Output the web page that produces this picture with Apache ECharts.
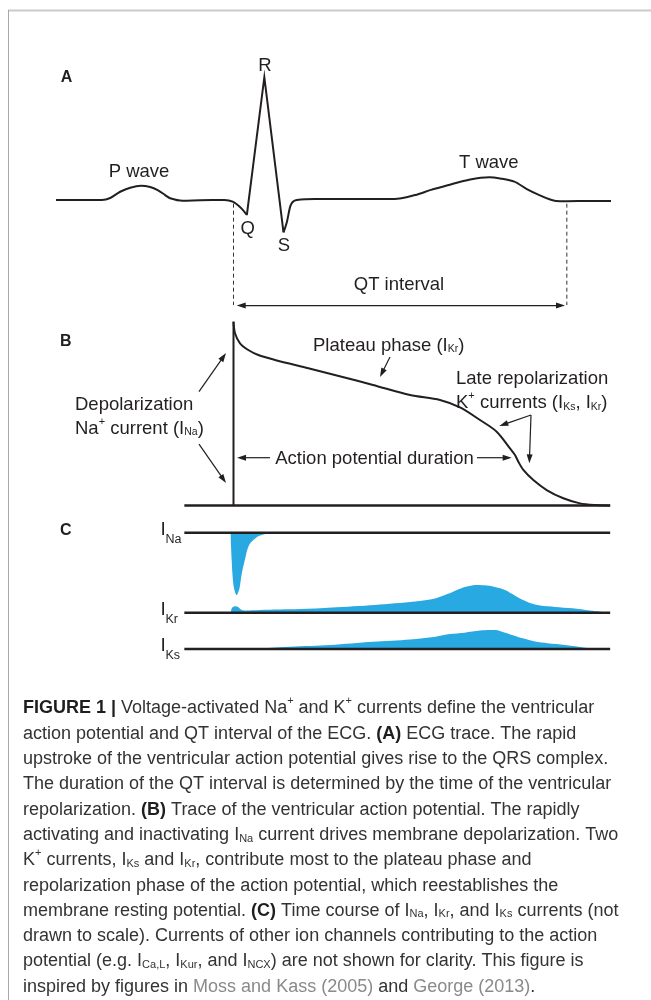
<!DOCTYPE html>
<html><head><meta charset="utf-8">
<script src="https://cdn.jsdelivr.net/npm/echarts@6/dist/echarts.min.js"></script>
<style>html,body{margin:0;padding:0;background:#fff}#c{width:651px;height:1000px}</style>
</head><body><div id="c"></div>
<script>
// ---------- DATA (time in ms, 0 = Q onset / AP upstroke) ----------
// ECG (mV-like units)
const ecgPQ = [[-213,0],[-158,0],[-148,0.016],[-136,0.067],[-124,0.10],[-111,0.116],[-100,0.106],[-91,0.081],[-82,0.04],[-76,0.014],[-61,-0.006],[-40,-0.002],[-11,0],[-1,-0.014],[9,-0.065],[16,-0.122]];
const ecgQRS = [[16,-0.122],[37,0.998],[60,-0.263]];
const ecgST = [[60,-0.263],[64,-0.18],[68,-0.054],[71,-0.016],[76,0],[98,0.008],[193,0.008],[218,0.04],[236,0.08],[257,0.12],[284,0.167],[307,0.185],[320,0.175],[337,0.149],[352,0.089],[367,0.04],[380,0.004],[387,-0.008],[400,-0.01],[428,-0.008],[453,-0.008]];
// Ventricular action potential (mV)
const apRest = [[-59,-85],[452,-85]];
const apUpstroke = [[0,-85],[0,35]];
const apDecay = [[0,35],[1.8,27.4],[7.8,20.9],[17.8,16.5],[29.8,13.2],[49.8,10.0],[89.8,4.6],[129.8,-0.9],[167.4,-6.3],[211.8,-12.9],[247.8,-16.1],[271.8,-21.0],[295.8,-29.2],[315.8,-36.8],[331.8,-47.7],[337.8,-52.0],[341.8,-56.4],[347.8,-61.8],[359.8,-68.4],[375.8,-74.9],[395.8,-80.3],[415.8,-83.6],[435.8,-84.7],[452,-85]];
// Currents (normalized, not to scale)
const iNa = [[-3.4,0],[-3,-0.2],[-2.2,-0.44],[-1.2,-0.68],[0.6,-0.89],[3.8,-1.0],[7.2,-0.89],[9.6,-0.68],[13.6,-0.44],[18.6,-0.2],[28.2,-0.07],[38.5,-0.02],[55.8,-0.005],[70,0]];
const iKr = [[-3.4,0],[-1.8,0.17],[1.8,0.23],[5.4,0.21],[9,0.12],[13.8,0.08],[31.8,0.1],[79.8,0.13],[118.2,0.19],[169.8,0.28],[217.8,0.4],[241.8,0.51],[257.4,0.68],[269.4,0.84],[280.2,0.95],[292.2,1.0],[304.2,0.98],[316.2,0.91],[325.8,0.82],[334.2,0.68],[343.8,0.51],[355.8,0.35],[367.8,0.26],[385.8,0.21],[406.9,0.16],[427.8,0.08],[451.8,0]];
const iKs = [[-1.8,0],[31.8,0.04],[68.4,0.12],[115.8,0.21],[167.4,0.38],[211.8,0.5],[242.6,0.65],[259.8,0.79],[277.4,0.86],[295.8,0.97],[307.3,1.0],[315,1.0],[322.2,0.91],[334.2,0.74],[347.2,0.56],[361.8,0.39],[377,0.3],[397.8,0.21],[426.6,0.04],[433.8,0]];
const currentBaseline = [[-59,0],[452,0]];
const currentNames = [['Na'],['Kr'],['Ks']];

// Annotations (data units of their panel)
const qtMarks = [0, 400];                // ms, dashed verticals
const qtArrow = [[3.8,-0.858],[397.8,-0.858]];
const labelsA = [
  {t:'{n|R}', x:37.8, y:1.106},
  {t:'{n|P wave}', x:-113.4, y:0.244},
  {t:'{n|Q}', x:17, y:-0.224},
  {t:'{n|S}', x:60.6, y:-0.362},
  {t:'{n|T wave}', x:306.4, y:0.311},
  {t:'{n|QT interval}', x:198.6, y:-0.677}
];
const labelsB = [
  {t:'{n|Plateau phase (I}{s|Kr}{n|)}', x:95.4, y:20.4, align:'left'},
  {t:'{n|Late repolarization}', x:267, y:-1.1, align:'left'},
  {t:'{n|K}{p|+}{n| currents (I}{s|Ks}{n|, I}{s|Kr}{n|)}', x:267, y:-17.2, align:'left'},
  {t:'{n|Depolarization}', x:-190.2, y:-18.1, align:'left'},
  {t:'{n|Na}{p|+}{n| current (I}{s|Na}{n|)}', x:-190.2, y:-33.8, align:'left'},
  {t:'{n|Action potential duration}', x:169.2, y:-53.6}
];
const arrowsB = [
  {from:[187.8,11.9], to:[175.8,-1.1]},
  {from:[357,-25.9], to:[319,-33.1]},
  {from:[357,-25.9], to:[355,-57.5]},
  {from:[-41.4,-10.7], to:[-9,14.5]},
  {from:[-41.4,-44.9], to:[-9,-70.3]},
  {from:[43.8,-53.8], to:[4.2,-53.8]},
  {from:[292.2,-53.8], to:[333.8,-53.8]}
];
const captionLines = [
  '{b|FIGURE 1 |}{n| Voltage-activated Na}{p|+}{n| and K}{p|+}{n| currents define the ventricular}',
  '{n|action potential and QT interval of the ECG. }{b|(A)}{n| ECG trace. The rapid}',
  '{n|upstroke of the ventricular action potential gives rise to the QRS complex.}',
  '{n|The duration of the QT interval is determined by the time of the ventricular}',
  '{n|repolarization. }{b|(B)}{n| Trace of the ventricular action potential. The rapidly}',
  '{n|activating and inactivating I}{s|Na}{n| current drives membrane depolarization. Two}',
  '{n|K}{p|+}{n| currents, I}{s|Ks}{n| and I}{s|Kr}{n|, contribute most to the plateau phase and}',
  '{n|repolarization phase of the action potential, which reestablishes the}',
  '{n|membrane resting potential. }{b|(C)}{n| Time course of I}{s|Na}{n|, I}{s|Kr}{n|, and I}{s|Ks}{n| currents (not}',
  '{n|drawn to scale). Currents of other ion channels contributing to the action}',
  '{n|potential (e.g. I}{s|Ca,L}{n|, I}{s|Kur}{n|, and I}{s|NCX}{n|) are not shown for clarity. This figure is}',
  '{n|inspired by figures in }{g|Moss and Kass (2005)}{n| and }{g|George (2013)}{n|.}'
];

// ---------- LAYOUT ----------
const FONT = '"Liberation Sans", Arial, Helvetica, sans-serif';
const INK = '#231F20';
const BLUE = '#29A9E1';
const X_MIN = -220, X_MAX = 460, X0PX = 233.5, PX_PER_MS = 1/1.2;
const gridLeft = X0PX + X_MIN*PX_PER_MS, gridWidth = (X_MAX - X_MIN)*PX_PER_MS;
// [ref value, ref pixel, px per unit, min, max]
const panels = [
  [0, 200, 123, -0.9, 1.2],
  [-85, 505.5, 1.532, -90, 40],
  [0, 532.7, 62.3, -1.2, 0.2],
  [0, 612.7, 27.7, -0.2, 1.2],
  [0, 649, 19, -0.3, 1.3]
];
const grids = panels.map(p => ({left: gridLeft, width: gridWidth, top: p[1] - (p[4]-p[0])*p[2], height: (p[4]-p[3])*p[2], containLabel:false}));
const xAxes = panels.map((p,i) => ({type:'value', gridIndex:i, min:X_MIN, max:X_MAX, show:false}));
const yAxes = panels.map((p,i) => ({type:'value', gridIndex:i, min:p[3], max:p[4], show:false}));

function lineS(data, g, opt) {
  return Object.assign({type:'line', data, xAxisIndex:g, yAxisIndex:g, showSymbol:false, symbol:'none', silent:true,
    lineStyle:{color:INK, width:2}, z:3}, opt||{});
}
function fillS(data, g) {
  return lineS(data, g, {smooth:0.3, lineStyle:{width:0, opacity:0}, areaStyle:{color:BLUE, opacity:1}, z:2});
}
const series = [
  lineS(ecgPQ, 0, {smooth:0.3}),
  lineS(ecgQRS, 0, {lineStyle:{color:INK, width:2, join:'miter'}}),
  lineS(ecgST, 0, {smooth:0.3}),
  lineS(apRest, 1, {lineStyle:{color:INK, width:2.4}}),
  lineS(apUpstroke, 1),
  lineS(apDecay, 1, {smooth:0.3}),
  fillS(iNa, 2), lineS(currentBaseline, 2, {lineStyle:{color:INK, width:2.4}}),
  fillS(iKr, 3), lineS(currentBaseline, 3, {lineStyle:{color:INK, width:2.4}}),
  fillS(iKs, 4), lineS(currentBaseline, 4, {lineStyle:{color:INK, width:2.4}})
];

const chart = echarts.init(document.getElementById('c'), null, {renderer:'canvas'});
chart.setOption({animation:false, backgroundColor:'#fff', grid:grids, xAxis:xAxes, yAxis:yAxes, series});

// ---------- ANNOTATIONS via the chart's own scales ----------
const px = (g, p) => chart.convertToPixel({gridIndex:g}, p);
const labelRich = {
  n:{fontSize:18.5, lineHeight:22, fontFamily:FONT, fill:INK, verticalAlign:'bottom'},
  s:{fontSize:10.5, lineHeight:12, fontFamily:FONT, fill:INK, verticalAlign:'bottom'},
  p:{fontSize:11, lineHeight:12, fontFamily:FONT, fill:INK, verticalAlign:'top'}
};
const G = [];
function text(x, y, t, rich, align) {
  G.push({type:'text', x, y, silent:true, z:10, style:{text:t, rich, align:align||'center', verticalAlign:'middle', fontFamily:FONT, fontSize:18.5, fill:INK}});
}
function arrow(p1, p2, both) {
  const L = 9, W = 3;
  const head = (tip, from) => {
    const dx = tip[0]-from[0], dy = tip[1]-from[1], d = Math.hypot(dx,dy), ux = dx/d, uy = dy/d;
    const bx = tip[0]-ux*L, by = tip[1]-uy*L;
    G.push({type:'polygon', silent:true, z:10, shape:{points:[tip,[bx-uy*W, by+ux*W],[bx+uy*W, by-ux*W]]}, style:{fill:INK}});
    return [tip[0]-ux*(L-1), tip[1]-uy*(L-1)];
  };
  const e2 = head(p2, p1);
  const e1 = both ? head(p1, p2) : p1;
  G.push({type:'line', silent:true, z:10, shape:{x1:e1[0], y1:e1[1], x2:e2[0], y2:e2[1]}, style:{stroke:INK, lineWidth:1.2}});
}
// frame
G.push({type:'line', silent:true, shape:{x1:8, y1:10.5, x2:651, y2:10.5}, style:{stroke:'#cacaca', lineWidth:2}});
G.push({type:'line', silent:true, shape:{x1:8.5, y1:10, x2:8.5, y2:1000}, style:{stroke:'#a8a8a8', lineWidth:1}});
// panel letters
[['A',66.5,77.5],['B',65.7,341.3],['C',65.7,530.5]].forEach(([t,x,y]) =>
  G.push({type:'text', x, y, silent:true, style:{text:t, align:'center', verticalAlign:'middle', fontFamily:FONT, fontSize:16, fontWeight:'bold', fill:INK}}));
// panel A
qtMarks.forEach(m => {
  const a = px(0,[m,-0.03]), b = px(0,[m,-0.854]);
  G.push({type:'line', silent:true, shape:{x1:a[0], y1:a[1], x2:b[0], y2:b[1]}, style:{stroke:'#333', lineWidth:1, lineDash:[4,3]}});
});
arrow(px(0,qtArrow[0]), px(0,qtArrow[1]), true);
labelsA.forEach(l => { const p = px(0,[l.x,l.y]); text(p[0], p[1], l.t, labelRich, l.align); });
// panel B
labelsB.forEach(l => { const p = px(1,[l.x,l.y]); text(p[0], p[1], l.t, labelRich, l.align); });
arrowsB.forEach(a => arrow(px(1,a.from), px(1,a.to), false));
// panel C labels
currentNames.forEach((n,i) => {
  const p = px(2+i,[currentBaseline[0][0], 0]);
  G.push({type:'text', x:160.5, y:p[1]-3.3, silent:true, style:{text:'I', align:'left', verticalAlign:'middle', fontFamily:FONT, fontSize:19, fill:INK}});
  G.push({type:'text', x:165.5, y:p[1]+6.5, silent:true, style:{text:n[0], align:'left', verticalAlign:'middle', fontFamily:FONT, fontSize:12.5, fill:INK}});
});
// caption
const capRich = {
  n:{fontSize:18, lineHeight:22, fontFamily:FONT, fill:'#333', verticalAlign:'bottom'},
  b:{fontSize:18, lineHeight:22, fontFamily:FONT, fontWeight:'bold', fill:'#1e1e1e', verticalAlign:'bottom'},
  g:{fontSize:18, lineHeight:22, fontFamily:FONT, fill:'#8a8a8a', verticalAlign:'bottom'},
  s:{fontSize:11, lineHeight:12, fontFamily:FONT, fill:'#333', verticalAlign:'bottom'},
  p:{fontSize:11, lineHeight:12, fontFamily:FONT, fill:'#333', verticalAlign:'top'}
};
captionLines.forEach((t,i) => text(23, 706.5 + i*25.3, t, capRich, 'left'));

chart.setOption({graphic:{elements:G}});
</script></body></html>
